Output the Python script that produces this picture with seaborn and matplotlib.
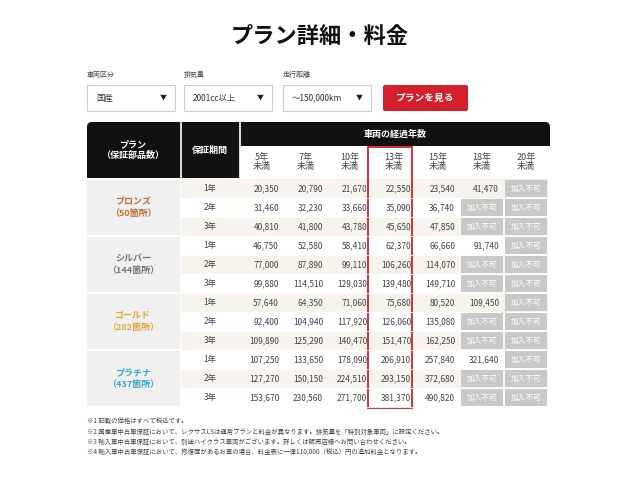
import matplotlib
matplotlib.use("Agg")
import matplotlib.pyplot as plt
import matplotlib.patches as patches
import seaborn as sns

sns.set_theme(style="white", font="Noto Sans CJK JP")

TITLE = "プラン詳細・料金"
years = ["5年\n未満", "7年\n未満", "10年\n未満", "13年\n未満", "15年\n未満", "18年\n未満", "20年\n未満"]
plans = ["ブロンズ\n（50箇所）", "シルバー\n（144箇所）", "ゴールド\n（282箇所）", "プラチナ\n（437箇所）"]
plan_colors = ["#c0703a", "#777777", "#e0a93a", "#3aa6c8"]
periods = ["1年", "2年", "3年"]

bronze = [[20350, 20790, 21670, 22550, 23540, 41470, None],
          [31460, 32230, 33660, 35090, 36740, None, None],
          [40810, 41800, 43780, 45650, 47850, None, None]]
silver = [[46750, 52580, 58410, 62370, 66660, 91740, None],
          [77000, 87890, 99110, 106260, 114070, None, None],
          [99880, 114510, 129030, 139480, 149710, None, None]]
gold = [[57640, 64350, 71060, 75680, 80520, 109450, None],
        [92400, 104940, 117920, 126060, 135080, None, None],
        [109890, 125290, 140470, 151470, 162250, None, None]]
platinum = [[107250, 133650, 178090, 206910, 257840, 321640, None],
            [127270, 150150, 224510, 293150, 372680, None, None],
            [153670, 230560, 271700, 381370, 490820, None, None]]
prices = bronze + silver + gold + platinum

selects = ["国産", "2001cc以上", "～150,000km"]
select_labels = ["車両区分", "排気量", "走行距離"]
notes = ["※1 記載の価格はすべて税込です。",
         "※2 国産車中古車保証において、レクサスLSは通常プランと料金が異なります。排気量を「特別対象車両」に設定ください。",
         "※3 輸入車中古車保証において、別途ハイクラス車両がございます。詳しくは販売店様へお問い合わせください。",
         "※4 輸入車中古車保証において、修復歴があるお車の場合、料金表に一律110,000（税込）円の追加料金となります。"]

fig = plt.figure(figsize=(6.4, 4.8), dpi=100)
ax = fig.add_axes([0, 0, 1, 1])
ax.set_xlim(0, 640)
ax.set_ylim(480, 0)
ax.axis("off")

ax.text(320, 36, TITLE, ha="center", va="center", fontsize=16, fontweight="bold", color="#111111")

# controls
sel_x = [87, 184, 283]
for x, lab, val in zip(sel_x, select_labels, selects):
    ax.text(x, 75, lab, fontsize=5, color="#444444", va="center")
    ax.add_patch(patches.Rectangle((x, 85), 88, 26, facecolor="white", edgecolor="#cccccc", lw=0.8))
    ax.text(x + 9, 98, val, fontsize=6, color="#333333", va="center")
    ax.text(x + 76, 98, "▼", fontsize=5, color="#222222", va="center", ha="center")
ax.add_patch(patches.FancyBboxPatch((383, 85), 85, 26, boxstyle="round,pad=0,rounding_size=2",
                                    facecolor="#d3202a", edgecolor="none"))
ax.text(425, 98, "プランを見る", fontsize=7, color="white", fontweight="bold", ha="center", va="center")

# header
top, left, right = 122, 87, 550
ax.add_patch(patches.FancyBboxPatch((left, top), right - left, 56, boxstyle="round,pad=0,rounding_size=5",
                                    facecolor="#111111", edgecolor="none"))
ax.add_patch(patches.Rectangle((left, 160), right - left, 18, facecolor="#111111", edgecolor="none"))
ax.add_patch(patches.Rectangle((240, 146), right - 240, 32, facecolor="white", edgecolor="none"))
ax.plot([181, 181], [top, 178], color="white", lw=1.2)
ax.plot([240, 240], [top, 178], color="white", lw=1.2)
ax.text(133, 150, "プラン\n（保証部品数）", color="white", fontsize=6.5, fontweight="bold",
        ha="center", va="center", linespacing=1.3)
ax.text(210, 150, "保証期間", color="white", fontsize=6.5, fontweight="bold", ha="center", va="center")
ax.text(395, 134, "車両の経過年数", color="white", fontsize=6.5, fontweight="bold", ha="center", va="center")

col_w = 44
for j, y in enumerate(years):
    ax.text(240 + col_w * (j + 0.5), 162, y, fontsize=6.5, color="#444444", ha="center", va="center",
            linespacing=1.1)

# body
row_h = 19
y0 = 179
for i, row in enumerate(prices):
    y = y0 + i * row_h
    bg = "#f6f4ec" if i % 2 == 0 else "white"
    ax.add_patch(patches.Rectangle((181, y), 240 - 181 + col_w * 7, row_h, facecolor=bg, edgecolor="none"))
    ax.text(210, y + row_h / 2, periods[i % 3], fontsize=6, color="#444444", ha="center", va="center")
    for j, v in enumerate(row):
        x = 240 + col_w * j
        if v is None:
            ax.add_patch(patches.Rectangle((x + 1, y + 1), col_w - 2, row_h - 2, facecolor="#c8c8c8",
                                           edgecolor="none"))
            ax.text(x + col_w / 2, y + row_h / 2, "加入不可", fontsize=5.5, color="white",
                    ha="center", va="center")
        else:
            ax.text(x + col_w - 5, y + row_h / 2, f"{v:,}", fontsize=6, color="#444444",
                    ha="right", va="center")
    ax.plot([181, 548], [y + row_h, y + row_h], color="white", lw=0.6)

for k, (p, c) in enumerate(zip(plans, plan_colors)):
    y = y0 + k * 3 * row_h
    ax.add_patch(patches.Rectangle((left, y + 1), 180 - left, 3 * row_h - 2, facecolor="#f0f0f0",
                                   edgecolor="none"))
    ax.text(133, y + 1.5 * row_h, p, fontsize=6.5, color=c, fontweight="bold", ha="center", va="center",
            linespacing=1.4)

# highlight 13年
ax.add_patch(patches.Rectangle((368, 147), col_w, y0 + 12 * row_h - 147 + 1, facecolor="none",
                               edgecolor="#d3202a", lw=1.3))

for n, t in enumerate(notes):
    ax.text(87, 421 + n * 10.5, t, fontsize=4.6, color="#444444", va="center")

fig.savefig("out.png", dpi=100)
